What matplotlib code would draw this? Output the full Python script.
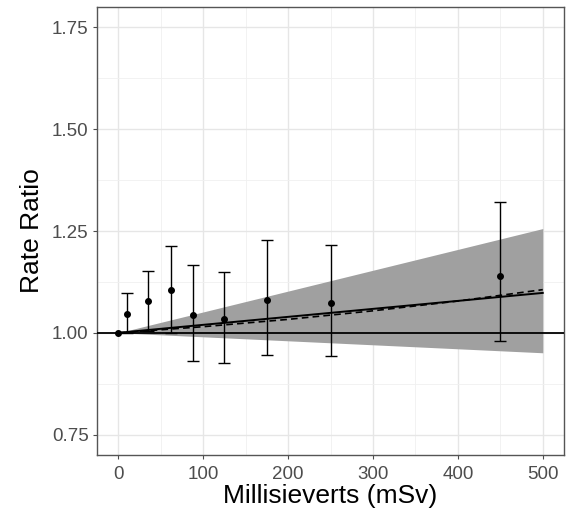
import matplotlib
matplotlib.use("Agg")
import matplotlib.pyplot as plt
import numpy as np

plt.rcParams['font.family'] = ['Liberation Sans', 'DejaVu Sans']

# category point estimates with 95% CI
dose = [0, 10, 35, 62, 88, 125, 175, 250, 450]
rr = [1.000, 1.047, 1.077, 1.104, 1.043, 1.033, 1.080, 1.072, 1.139]
rr_low = [1.000, 1.000, 1.004, 1.000, 0.930, 0.927, 0.945, 0.943, 0.979]
rr_high = [1.000, 1.098, 1.151, 1.212, 1.167, 1.149, 1.228, 1.216, 1.320]

# linear fit with confidence band
fit_x = [0, 500]
fit_y = [1.000, 1.098]
band_low = [1.000, 0.951]
band_high = [1.000, 1.256]

# dashed (smoothed) fit
dash_x = [0, 100, 200, 300, 400, 500]
dash_y = [1.000, 1.015, 1.033, 1.054, 1.078, 1.106]

fig = plt.figure(figsize=(5.74, 5.09), dpi=100)
ax = fig.add_axes([97/574, 54/509, 467/574, 448/509])

ax.fill_between(fit_x, band_low, band_high, color='#a0a0a0', lw=0, zorder=2)
ax.axhline(1.0, color='black', lw=1.3, zorder=3)
ax.plot(fit_x, fit_y, color='black', lw=1.4, zorder=4)
ax.plot(dash_x, dash_y, color='black', lw=1.2, ls=(0, (4, 2.5)), zorder=4)

dose_a = np.array(dose)
rr_a = np.array(rr)
yerr = [rr_a - np.array(rr_low), np.array(rr_high) - rr_a]
has_bar = dose_a > 0
ax.errorbar(dose_a[has_bar], rr_a[has_bar],
            yerr=[yerr[0][has_bar], yerr[1][has_bar]],
            fmt='none', ecolor='black', elinewidth=1.0, capsize=4, capthick=1.0, zorder=5)
ax.scatter(dose, rr, s=16, color='black', zorder=6)

ax.set_xlim(-25, 525)
ax.set_ylim(0.70, 1.80)
ax.set_xticks([0, 100, 200, 300, 400, 500])
ax.set_yticks([0.75, 1.00, 1.25, 1.50, 1.75])
ax.set_yticklabels(['0.75', '1.00', '1.25', '1.50', '1.75'])
ax.set_xticks(np.arange(50, 500, 100), minor=True)
ax.set_yticks([0.875, 1.125, 1.375, 1.625], minor=True)

ax.grid(True, which='major', color='#e6e6e6', lw=1.0, zorder=0)
ax.grid(True, which='minor', color='#f0f0f0', lw=0.6, zorder=0)
ax.set_axisbelow(True)

for sp in ax.spines.values():
    sp.set_color('#555555')
    sp.set_linewidth(1.0)

ax.tick_params(axis='both', which='major', labelsize=13.5, labelcolor='#4d4d4d',
               color='#4d4d4d', length=3, width=0.8, pad=3)
ax.tick_params(axis='x', which='major', pad=5)
ax.tick_params(axis='both', which='minor', length=0)

ax.set_xlabel('Millisieverts (mSv)', fontsize=19, labelpad=1)
ax.set_ylabel('Rate Ratio', fontsize=19, labelpad=6)

fig.savefig('out.png', dpi=100)
